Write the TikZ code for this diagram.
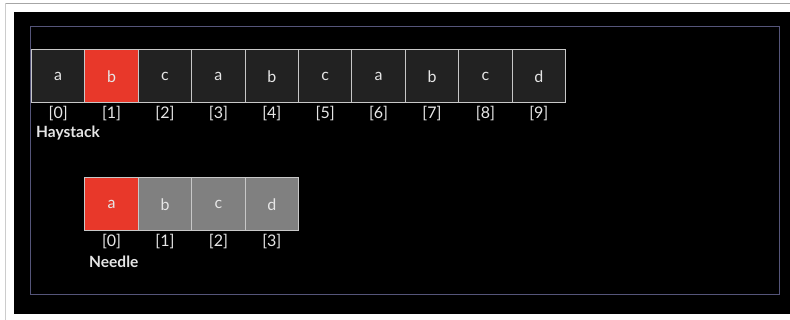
\documentclass[tikz,border=0pt]{standalone}
\usepackage{fontspec}
\setmainfont{Lato}
\definecolor{cellred}{HTML}{E8382A}
\definecolor{celldark}{HTML}{222222}
\definecolor{cellgrey}{HTML}{808080}
\definecolor{cellline}{HTML}{C8C8C8}
\definecolor{framec}{HTML}{55557A}
\definecolor{txt}{HTML}{E6E6E6}
\begin{document}
\begin{tikzpicture}[x=1pt,y=-1pt,
  cellbox/.style={draw=cellline, line width=1pt, minimum width=53.4pt, minimum height=53pt, inner sep=0pt, anchor=north west, text=txt, font=\fontsize{16}{18}\selectfont},
  idx/.style={text=txt, font=\fontsize{16}{18}\selectfont, inner sep=0pt},
  lbl/.style={text=txt, font=\bfseries\fontsize{15.5}{17}\selectfont, inner sep=0pt, anchor=west}]
\useasboundingbox (0,0) rectangle (790,320);
\fill[white] (0,0) rectangle (790,320);
\fill[black] (14,12) rectangle (790,314);
\draw[gray!70, line width=1.5pt] (5,3.5) -- (790,3.5);
\draw[gray!40, line width=0.8pt] (5,3.5) -- (5,320);
\draw[framec, line width=1pt] (30,27) rectangle (779,295);
% haystack
\foreach \ch [count=\i from 0] in {a,b,c,a,b,c,a,b,c,d} {
  \pgfmathsetmacro{\xx}{31+53.4*\i}
  \ifnum\i=1
    \node[cellbox, fill=cellred] (h\i) at (\xx,49.3) {\ch};
  \else
    \node[cellbox, fill=celldark] (h\i) at (\xx,49.3) {\ch};
  \fi
  \node[idx] (hi\i) at ([yshift=-10pt]h\i.south) {[\i]};
}
\node[lbl] (hay) at (36,133) {Haystack};
% needle
\foreach \ch [count=\i from 0] in {a,b,c,d} {
  \pgfmathsetmacro{\xx}{84.4+53.4*\i}
  \ifnum\i=0
    \node[cellbox, fill=cellred] (n\i) at (\xx,177.5) {\ch};
  \else
    \node[cellbox, fill=cellgrey] (n\i) at (\xx,177.5) {\ch};
  \fi
  \node[idx] (ni\i) at ([yshift=-10pt]n\i.south) {[\i]};
}
\node[lbl] (ndl) at (89,262) {Needle};
\end{tikzpicture}
\end{document}
